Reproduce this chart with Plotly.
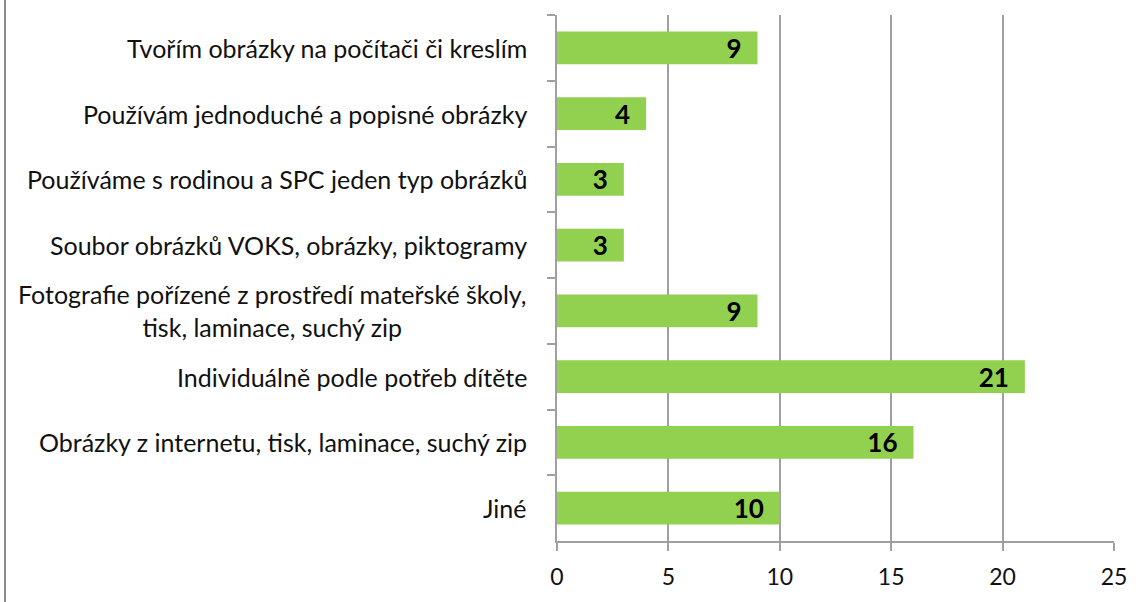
import plotly.graph_objects as go

categories = [
    "Tvořím obrázky na počítači či kreslím",
    "Používám jednoduché a popisné obrázky",
    "Používáme s rodinou a SPC jeden typ obrázků",
    "Soubor obrázků VOKS, obrázky, piktogramy",
    "Fotografie pořízené z prostředí mateřské školy,<br>tisk, laminace, suchý zip",
    "Individuálně podle potřeb dítěte",
    "Obrázky z internetu, tisk, laminace, suchý zip",
    "Jiné",
]
values = [9, 4, 3, 3, 9, 21, 16, 10]
x_ticks = [0, 5, 10, 15, 20, 25]

FONT = "Lato"
GRID = "#a0a0a0"

fig = go.Figure(go.Bar(
    y=categories, x=values, orientation="h",
    marker=dict(color="#92D050", line=dict(width=0)),
    width=0.5,
    text=[f"{v}\u2002" for v in values],
    textposition="inside", insidetextanchor="end", textangle=0,
    textfont=dict(family=FONT, size=26, color="black", weight="bold"),
    cliponaxis=False,
))

for c in categories:
    fig.add_annotation(
        x=0, xref="paper", y=c, yref="y", xanchor="right", align="center",
        xshift=-28, text=c, showarrow=False,
        font=dict(family=FONT, size=25, color="#111111"),
    )

fig.add_shape(type="line", xref="paper", yref="paper",
              x0=-0.991, x1=-0.991, y0=-0.2, y1=1.1,
              line=dict(color="#8a8a8a", width=2))

fig.update_layout(
    width=1146, height=602,
    margin=dict(l=557, r=32, t=15, b=61),
    plot_bgcolor="white", paper_bgcolor="white",
    showlegend=False,
    uniformtext=dict(minsize=26, mode="show"),
    xaxis=dict(range=[0, 25], tickvals=x_ticks, showgrid=True, gridcolor=GRID,
               gridwidth=2, showline=True, linecolor=GRID, linewidth=2,
               ticks="outside", ticklen=8, tickcolor=GRID, tickwidth=2,
               zeroline=False, automargin=False, ticklabelstandoff=6,
               tickfont=dict(family=FONT, size=23, color="#111111")),
    yaxis=dict(autorange="reversed", showticklabels=False, showline=True,
               linecolor=GRID, linewidth=2, ticks="outside", ticklen=8,
               tickcolor=GRID, tickwidth=2, tickson="boundaries",
               showgrid=False, automargin=False),
)

fig.write_html("out.html", config={"displayModeBar": False},
               post_script="document.body.style.margin='0px';")
